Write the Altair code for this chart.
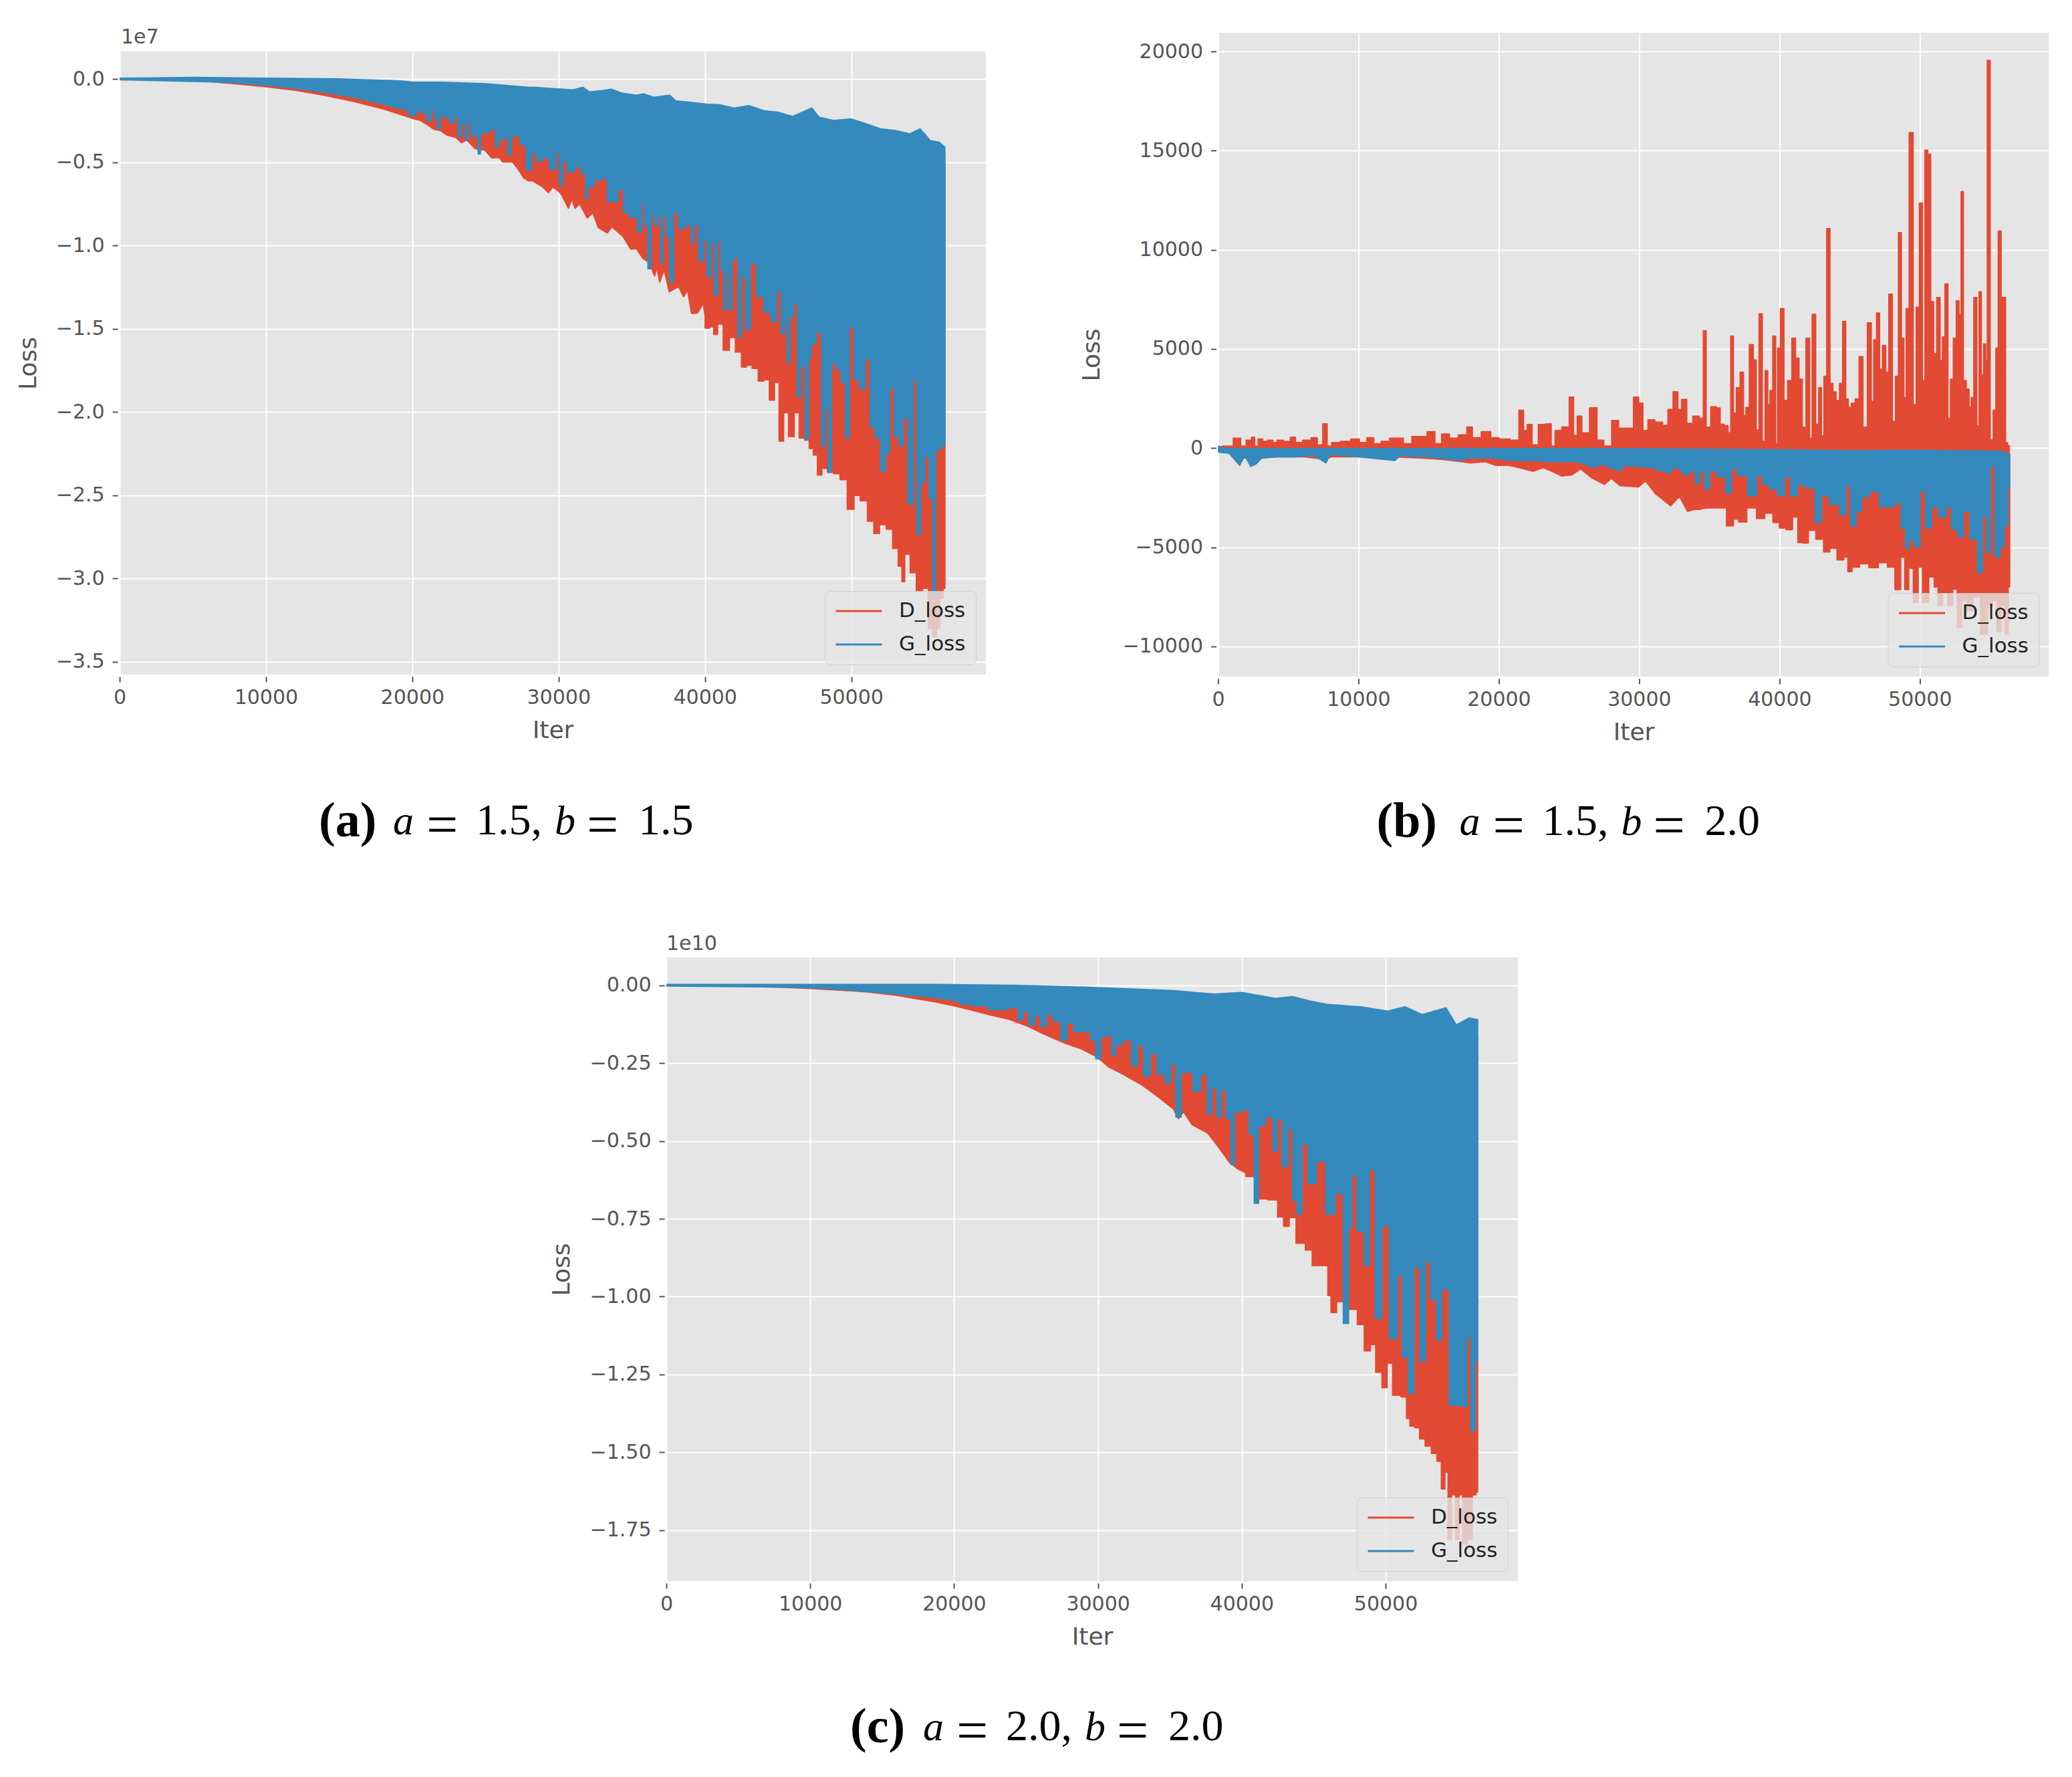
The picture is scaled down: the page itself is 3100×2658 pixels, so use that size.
import altair as alt
import pandas as pd

RED = "#E24A33"
BLUE = "#348ABD"
SERIES = ["D_loss", "G_loss"]
X_TICKS = [0, 10000, 20000, 30000, 40000, 50000]
A_Y_TICKS = [0.0, -0.5, -1.0, -1.5, -2.0, -2.5, -3.0, -3.5]
B_Y_TICKS = [20000, 15000, 10000, 5000, 0, -5000, -10000]
C_Y_TICKS = [0.0, -0.25, -0.5, -0.75, -1.0, -1.25, -1.5, -1.75]

# Panel (a): loss in units of 1e7, (iter, value)
A_D_HI = [(0, 0.0), (10000, -0.01), (20000, -0.04), (30000, -0.1), (40000, -0.22), (50000, -0.33), (56400, -0.5)]
A_G_UPPER_EDGE = [(0, -0.005), (10000, -0.025), (20000, -0.12), (30000, -0.3), (40000, -0.5), (50000, -0.7), (56400, -0.7)]
A_G_LOWER_EDGE = [(0, -0.0005), (10000, -0.005), (20000, -0.03), (30000, -0.12), (40000, -0.3), (50000, -0.5), (56400, -0.7)]
A_D_LO = [(0, -0.001), (2000, -0.003), (4000, -0.008), (6000, -0.015), (8000, -0.03), (10000, -0.047), (12000, -0.068), (14000, -0.098), (16000, -0.135), (18000, -0.18),
          (20090, -0.239), (20550, -0.249), (21000, -0.273), (21460, -0.302), (21920, -0.31), (22370, -0.337), (22980, -0.351), (23360, -0.383), (23740, -0.367), (24280, -0.418),
          (24960, -0.427), (25420, -0.474), (25950, -0.472), (26180, -0.499), (26860, -0.499), (27240, -0.542), (27620, -0.595), (27930, -0.612), (28230, -0.612), (28540, -0.629),
          (28920, -0.649), (29300, -0.683), (29600, -0.649), (29980, -0.673), (30210, -0.696), (30670, -0.777), (30900, -0.723), (31130, -0.777), (31430, -0.75), (31960, -0.835),
          (32340, -0.804), (32720, -0.894), (33330, -0.925), (33640, -0.888), (34400, -0.945), (34930, -1.023), (35310, -1.019), (35770, -1.079), (36220, -1.106), (36560, -1.184),
          (36710, -1.133), (36910, -1.22), (37210, -1.146), (37560, -1.278), (38200, -1.247), (38540, -1.308), (38810, -1.267), (39090, -1.409), (39500, -1.405), (39880, -1.348),
          (40150, -1.497), (40490, -1.489), (40715, -1.534), (41020, -1.473), (41480, -1.629), (41860, -1.553), (42310, -1.64), (42690, -1.731), (43000, -1.72), (43450, -1.739),
          (43840, -1.815), (44210, -1.807), (44600, -1.929), (44900, -1.823), (45240, -2.175), (45510, -2.005), (45930, -2.148), (46270, -2.005), (46620, -2.156), (47000, -2.169),
          (47260, -2.22), (47560, -2.259), (47820, -2.379), (48170, -2.339), (48580, -2.363), (49010, -2.371), (49460, -2.407), (50000, -2.585), (50380, -2.502), (50840, -2.534),
          (51370, -2.656), (51720, -2.731), (52130, -2.677), (52660, -2.704), (53000, -2.82), (53420, -2.926), (53510, -3.02), (53800, -2.855), (54260, -2.966), (54640, -3.077),
          (55100, -3.06), (55430, -3.3), (55700, -3.35), (55940, -3.3), (56150, -3.12), (56400, -3.06)]
A_G_HI = [(0, 0.004), (5000, 0.009), (10000, 0.004), (15000, 0.0), (17000, -0.006), (19000, -0.011), (20090, -0.02), (22000, -0.02), (24660, -0.028), (25500, -0.032), (26500, -0.04),
          (28000, -0.051), (28300, -0.05), (29500, -0.058), (31000, -0.066), (31660, -0.05), (32100, -0.078), (33000, -0.07), (33600, -0.062), (34300, -0.085), (35310, -0.098), (35800, -0.09),
          (36500, -0.11), (37590, -0.098), (38000, -0.132), (39000, -0.14), (40180, -0.152), (41000, -0.155), (42000, -0.175), (43000, -0.16), (44000, -0.19), (45000, -0.2), (46000, -0.225),
          (47300, -0.175), (47800, -0.23), (48800, -0.25), (50000, -0.24), (51000, -0.27), (52000, -0.3), (53000, -0.31), (54000, -0.33), (54700, -0.3), (55400, -0.37), (56000, -0.38), (56400, -0.41)]
A_G_LO = [(0, 0.0), (2000, -0.003), (4000, -0.007), (6000, -0.012), (8000, -0.022), (10000, -0.037), (12000, -0.056), (14000, -0.08), (16000, -0.11), (17000, -0.13), (18000, -0.15), (19000, -0.175), (19500, -0.18),
          (20090, -0.22), (20470, -0.19), (20850, -0.206), (21160, -0.253), (21430, -0.185), (21610, -0.239), (21840, -0.3), (21990, -0.219), (22450, -0.233), (22680, -0.266), (23060, -0.229),
          (23210, -0.347), (23520, -0.27), (23740, -0.367), (23900, -0.253), (24120, -0.333), (24430, -0.347), (24580, -0.45), (24730, -0.327), (25110, -0.32), (25570, -0.3), (25800, -0.407),
          (26030, -0.367), (26410, -0.353), (26640, -0.454), (26860, -0.347), (27170, -0.337), (27550, -0.394), (28010, -0.548), (28310, -0.448), (28690, -0.495), (29070, -0.474), (29680, -0.542),
          (29980, -0.441), (30130, -0.636), (30440, -0.495), (30750, -0.562), (30970, -0.555), (31280, -0.528), (31810, -0.569), (31890, -0.723), (32110, -0.649), (32720, -0.609), (33180, -0.595),
          (33480, -0.737), (33790, -0.737), (34320, -0.663), (34550, -0.804), (35160, -0.831), (35620, -0.918), (35740, -0.737), (35990, -0.878), (36220, -1.14), (36400, -0.817), (36680, -0.878),
          (36910, -0.824), (37060, -1.106), (37210, -0.824), (37520, -0.945), (37670, -1.22), (38050, -0.804), (38350, -0.898), (38960, -0.878), (39190, -0.985), (39340, -0.878), (39800, -1.093),
          (40030, -0.965), (40260, -1.188), (40560, -0.989), (40715, -1.299), (41020, -0.973), (41170, -1.148), (41430, -1.386), (41550, -1.18), (41780, -1.386), (41930, -1.084), (42190, -1.068),
          (42340, -1.553), (42620, -1.188), (42920, -1.505), (43300, -1.108), (43760, -1.307), (44290, -1.402), (44750, -1.458), (45020, -1.275), (45390, -1.529), (45510, -1.458), (45740, -1.704),
          (45890, -1.426), (46230, -1.346), (46420, -1.91), (46700, -1.727), (47000, -2.164), (47180, -1.68), (47340, -1.592), (47870, -1.521), (48100, -2.204), (48320, -1.981), (48550, -2.363),
          (48730, -1.704), (49160, -1.743), (49470, -1.823), (49740, -2.156), (50000, -1.489), (50380, -1.807), (50760, -1.862), (51140, -1.68), (51450, -2.093), (51830, -2.156), (52180, -2.355),
          (52510, -2.251), (52740, -1.854), (53120, -2.148), (53420, -2.204), (53650, -2.037), (54110, -2.553), (54370, -1.807), (54610, -2.736), (54870, -2.426), (55170, -2.267), (55480, -2.521),
          (55680, -3.11), (55860, -2.228), (56400, -2.204)]

# Panel (b): raw loss
B_BASE = [(0, -60), (20000, -80), (34000, -100), (45000, -150), (56400, -300)]
B_G_UPPER_EDGE = [(0, -150), (20000, -200), (34000, -300), (45000, -400), (56400, -600)]
B_G_LOWER_EDGE = [(0, -60), (20000, -100), (34000, -120), (45000, -150), (56400, -300)]
B_D_HI = [(0, 65), (680, 100), (1480, 500), (1730, 100), (2260, 400), (2500, 550), (2700, 100), (3000, 460), (3350, 340), (3720, 400), (4080, 280), (4330, 400), (4930, 340), (5370, 550), (5660, 280), (6390, 400),
          (6880, 520), (7240, 160), (7680, 1220), (7850, 100), (8340, 280), (9070, 340), (9840, 460), (10280, 280), (10910, 520), (11250, 220), (11980, 340), (12470, 500), (12950, 500), (13440, 220), (14170, 580),
          (14530, 580), (15260, 825), (15630, 220), (16230, 705), (16720, 500), (17520, 670), (17930, 1066), (18300, 520), (19200, 825), (19640, 520), (20370, 460), (21220, 400), (21650, 1910), (21870, 885),
          (22190, 1187), (22550, 160), (23090, 1187), (23570, 1223), (23890, 100), (24130, 885), (24860, 1066), (25180, 2573), (25470, 640), (25710, 1609), (26120, 765), (26810, 2031), (27170, 400), (27780, 100),
          (28310, 1392), (28750, 1006), (29360, 1006), (29840, 2573), (30080, 2272), (30450, 885), (30810, 1428), (31420, 1307), (31910, 1150), (32200, 1946), (32640, 2839), (32880, 1946), (33170, 2453), (33610, 1247),
          (34050, 1609), (34490, 1500), (34660, 5918), (34880, 1055), (35330, 2079), (35660, 2023), (35880, 1198), (36240, 1127), (36420, 771), (36640, 5648), (36790, 1767), (37060, 3046), (37340, 3828), (37520, 1624),
          (37700, 2051), (38010, 5222), (38250, 4440), (38430, 913), (38660, 6772), (38880, 345), (39070, 3900), (39250, 2193), (39400, 2904), (39650, 5648), (39800, 203), (39940, 5037), (40200, 7028), (40430, 2406),
          (40740, 3402), (41030, 5535), (41250, 4539), (41530, 3473), (41710, 1055), (42070, 5535), (42220, 486), (42440, 6744), (42710, 1198), (42890, 3046), (43080, 629), (43260, 3615), (43480, 11066), (43710, 3259),
          (43900, 2833), (44170, 2406), (44390, 3259), (44620, 6388), (44810, 2478), (44990, 2051), (45260, 2264), (45540, 2478), (45810, 4611), (46080, 1055), (46450, 6317), (46630, 2335), (46810, 5464), (47030, 6815),
          (47230, 3971), (47450, 5180), (47690, 3828), (47900, 7767), (48180, 1340), (48360, 3615), (48600, 10867), (48760, 5535), (48960, 2549), (49090, 7028), (49400, 15901), (49640, 2193), (49850, 7099), (50090, 12360),
          (50270, 3402), (50460, 15020), (50670, 14820), (50870, 7383), (51090, 4753), (51330, 7597), (51550, 4397), (51680, 5606), (51910, 8279), (52090, 1482), (52280, 3473), (52500, 5535), (52700, 7426), (52880, 6744),
          (53010, 12929), (53190, 3402), (53420, 2975), (53600, 2051), (53730, 2549), (53970, 7597), (54150, 1127), (54300, 7881), (54460, 3686), (54640, 5251), (54740, 4397), (54880, 19542), (55140, 415), (55320, 1909),
          (55520, 5037), (55660, 10939), (55920, 7597), (56050, 7597), (56160, 273), (56340, 131), (56400, -367)]
B_D_LO = [(0, -55), (800, -260), (1530, -500), (2260, -500), (2990, -500), (4200, -440), (6150, -440), (7610, -560), (8090, -440), (10040, -440), (12220, -440), (14410, -500), (15870, -560), (17330, -680), (17930, -745),
          (19030, -680), (19760, -864), (20730, -864), (21460, -985), (22430, -1165), (23160, -985), (23770, -1165), (24500, -1406), (25220, -1346), (25830, -1045), (26560, -1467), (27530, -1829), (28020, -1527), (28630, -1890),
          (29960, -1950), (30450, -1648), (31180, -2311), (32240, -2905), (32880, -2432), (33450, -3186), (33930, -3096), (34870, -3017), (35930, -3017), (36520, -3918), (36910, -3580), (37260, -3727), (38070, -3017),
          (38660, -3547), (39240, -3276), (39820, -3749), (40170, -4031), (40760, -4110), (41090, -3468), (41530, -4763), (41860, -4785), (42250, -4143), (42930, -4594), (43360, -5236), (43810, -5044), (44390, -5641),
          (44780, -5495), (44970, -6226), (45360, -6001), (46040, -5832), (46690, -6024), (47400, -5776), (47990, -6001), (48470, -7127), (48800, -5500), (49060, -7127), (49350, -6058), (49730, -7775), (50030, -6001),
          (50360, -7775), (50900, -6500), (51150, -7000), (51450, -7924), (51800, -7300), (52180, -7924), (52500, -7100), (52820, -9023), (53150, -7700), (53600, -8200), (54000, -7500), (54640, -9389), (55000, -8000),
          (55350, -7700), (55650, -9242), (55950, -7900), (56190, -9389), (56400, -7000)]
B_G_HI = [(0, 100), (500, -20), (5000, -20), (30000, -30), (34000, -60), (40000, -80), (45000, -130), (50000, -110), (53000, -130), (55000, -150), (56000, -170), (56400, -450)]
B_G_LO = [(0, -200), (800, -260), (1530, -864), (1900, -380), (2330, -924), (2700, -804), (3110, -500), (4200, -440), (5420, -440), (6880, -380), (7680, -743), (7970, -320), (10040, -440), (12590, -622), (12950, -380),
          (14900, -440), (17330, -622), (17810, -500), (19510, -500), (20730, -622), (22190, -622), (23770, -683), (25590, -683), (26810, -985), (27290, -803), (28630, -1165), (28990, -864), (30940, -985), (32100, -1286),
          (32640, -924), (33370, -1406), (33850, -1045), (34185, -1779), (34480, -1159), (34870, -2060), (35160, -1159), (35930, -1441), (36420, -2285), (36710, -1047), (37300, -1385), (38170, -2398), (38560, -1385),
          (39050, -1835), (39530, -2060), (40210, -2398), (40500, -1441), (41090, -2398), (41470, -1835), (42250, -2004), (42840, -3749), (43130, -2398), (44000, -2848), (44590, -3355), (44880, -1891), (45270, -3918),
          (45650, -3186), (46040, -2454), (46820, -2173), (47400, -2961), (47990, -2961), (48470, -2736), (48860, -4031), (49120, -5044), (49450, -4650), (49890, -4988), (50130, -2173), (50670, -4031), (51000, -2961),
          (51680, -3468), (52070, -2961), (52460, -4087), (52950, -4481), (53240, -3186), (53920, -4594), (54310, -6283), (54600, -3411), (54930, -5269), (55140, -900), (55570, -5495), (55860, -4988), (56150, -3918), (56400, -1948)]

# Panel (c): loss in units of 1e10
C_D_HI = [(0, 0.0), (20000, -0.006), (30000, -0.025), (40000, -0.06), (50000, -0.12), (56400, -0.16)]
C_G_UPPER_EDGE = [(0, -0.002), (10000, -0.006), (20000, -0.04), (30000, -0.1), (40000, -0.2), (50000, -0.3), (56400, -0.3)]
C_G_LOWER_EDGE = [(0, -0.0002), (10000, -0.002), (20000, -0.01), (30000, -0.04), (40000, -0.1), (50000, -0.2), (56400, -0.3)]
C_D_LO = [(0, -0.0005), (4000, -0.001), (8000, -0.006), (10000, -0.01), (12000, -0.015), (14000, -0.021), (16000, -0.032), (18660, -0.053), (19850, -0.064), (21030, -0.077), (22450, -0.094), (23760, -0.108), (25060, -0.13),
          (26240, -0.156), (27670, -0.185), (28850, -0.204), (29920, -0.229), (30750, -0.262), (31690, -0.284), (33110, -0.321), (34300, -0.362), (35250, -0.397), (35600, -0.428), (35960, -0.406), (36550, -0.448),
          (37620, -0.474), (38330, -0.516), (39160, -0.569), (39750, -0.59), (40810, -0.614), (41290, -0.686), (42350, -0.689), (42640, -0.744), (43180, -0.774), (43420, -0.746), (44130, -0.828), (44720, -0.85),
          (45080, -0.9), (45910, -0.9), (46065, -0.997), (46350, -1.051), (46835, -1.016), (47800, -1.041), (48280, -1.09), (48760, -1.174), (49140, -1.154), (49490, -1.243), (50010, -1.292), (50200, -1.214), (50780, -1.317),
          (51360, -1.322), (51550, -1.391), (51840, -1.416), (52220, -1.421), (52510, -1.457), (52990, -1.48), (53380, -1.504), (53760, -1.529), (54000, -1.618), (54250, -1.564), (54440, -1.78), (54730, -1.637), (55010, -1.78),
          (55210, -1.637), (55500, -1.795), (55880, -1.78), (56170, -1.637), (56400, -1.628)]
C_G_HI = [(0, 0.003), (18660, 0.003), (24585, 0.0), (29320, -0.006), (35250, -0.017), (38090, -0.028), (39980, -0.023), (42350, -0.042), (43540, -0.036), (44720, -0.05), (45910, -0.061), (48280, -0.069), (50170, -0.083),
          (51350, -0.069), (52540, -0.094), (54200, -0.072), (54910, -0.127), (55810, -0.105), (56400, -0.11)]
C_G_LO = [(0, -0.0005), (4000, -0.001), (8000, -0.004), (10000, -0.007), (12000, -0.012), (14000, -0.018), (16000, -0.027), (18660, -0.039), (19850, -0.047), (21030, -0.061), (21620, -0.066), (23160, -0.078), (24230, -0.072),
          (24700, -0.11), (24940, -0.083), (25420, -0.127), (25770, -0.097), (26240, -0.132), (26600, -0.094), (27190, -0.116), (27670, -0.176), (28020, -0.121), (28610, -0.149), (29320, -0.149), (29680, -0.176), (30030, -0.236),
          (30390, -0.165), (30860, -0.16), (31100, -0.225), (31340, -0.193), (32050, -0.176), (32640, -0.258), (32880, -0.193), (33470, -0.291), (33820, -0.22), (34420, -0.286), (34890, -0.313), (35250, -0.253), (35600, -0.423),
          (35960, -0.28), (36430, -0.28), (36790, -0.34), (37500, -0.286), (37730, -0.412), (38090, -0.33), (38450, -0.423), (38680, -0.335), (39160, -0.428), (39350, -0.576), (39630, -0.406), (40340, -0.401), (40690, -0.478),
          (41050, -0.7), (41290, -0.45), (42000, -0.423), (42350, -0.532), (42590, -0.428), (43020, -0.582), (43420, -0.461), (43660, -0.691), (44010, -0.735), (44370, -0.51), (44840, -0.637), (45550, -0.565), (46140, -0.735),
          (46850, -0.669), (47280, -1.086), (47570, -0.779), (47750, -0.609), (48280, -0.79), (48750, -0.9), (48990, -0.593), (49580, -1.07), (49890, -0.773), (50640, -1.135), (51000, -0.932), (51350, -1.195), (51830, -1.31),
          (52110, -0.905), (52660, -1.207), (52900, -0.889), (53370, -1.009), (53720, -1.14), (54080, -0.976), (54790, -1.349), (55500, -1.352), (55790, -1.13), (56080, -1.43), (56400, -1.208)]

FONT = "DejaVu Sans"
SERIF = "Liberation Serif"


def band(series, hi, lo):
    pts = list(hi) + list(reversed(lo))
    return pd.DataFrame({"iter": [p[0] for p in pts], "loss": [p[1] for p in pts],
                         "seq": list(range(len(pts))), "series": series})


def cut(pts, t):
    """Split a list at iteration t; lists without a point at t share the neighbours."""
    k = next(i for i, p in enumerate(pts) if p[0] >= t)
    return pts[:k + 1], (pts[k:] if pts[k][0] == t else pts[max(k - 1, 0):])


def split(series, hi, lo, t, fill):
    h0, h1 = cut(hi, t)
    l0, l1 = cut(lo, t)
    return [(series, h0, l0, fill, "linear"), (series, h1, l1, fill, "step")]


def note(text, x, y, size, color, font, style="normal", weight="normal", align="left"):
    return alt.Chart(pd.DataFrame({"t": [text]})).mark_text(
        font=font, fontSize=size, color=color, fontStyle=style, fontWeight=weight,
        align=align, baseline="alphabetic", clip=False
    ).encode(text="t:N", x=alt.value(x), y=alt.value(y))


def caption(tag, tag_x, vals, dx, y):
    parts = [note(f"({tag})", tag_x, y + 3, 74, "#000000", SERIF, weight="bold")]
    parts.append(note("a", dx + 0, y, 62, "#000000", SERIF, style="italic"))
    parts.append(note("=", dx + 50, y + 14, 84, "#000000", SERIF))
    parts.append(note(f"{vals[0]},", dx + 124, y, 66, "#000000", SERIF))
    parts.append(note("b", dx + 242, y, 62, "#000000", SERIF, style="italic"))
    parts.append(note("=", dx + 290, y + 14, 84, "#000000", SERIF))
    parts.append(note(f"{vals[1]}", dx + 367, y, 66, "#000000", SERIF))
    return parts


def panel(polys, ydom, yticks, yfmt, w, h, title_x, extras):
    x = alt.X("iter:Q", scale=alt.Scale(domain=[0, 59200], nice=False, zero=False),
              axis=alt.Axis(values=X_TICKS, format="d", title="Iter", grid=True, gridColor="#FFFFFF", gridWidth=2,
                            domain=False, offset=3, tickSize=8, tickWidth=2, tickColor="#555555",
                            labelFont=FONT, labelFontSize=30, labelColor="#555555", labelPadding=8, labelFlush=False,
                            labelOverlap=False, titleFont=FONT, titleFontSize=36, titleColor="#555555",
                            titleFontWeight="normal", titleX=w / 2, titleY=80, titleAlign="center",
                            titleBaseline="middle"))
    y = alt.Y("loss:Q", scale=alt.Scale(domain=ydom, nice=False, zero=False),
              axis=alt.Axis(values=yticks, format=yfmt, title="Loss", grid=True, gridColor="#FFFFFF", gridWidth=2,
                            domain=False, offset=3, tickSize=8, tickWidth=2, tickColor="#555555",
                            labelFont=FONT, labelFontSize=30, labelColor="#555555", labelPadding=12, labelFlush=False,
                            labelOverlap=False, titleFont=FONT, titleFontSize=36, titleColor="#555555",
                            titleFontWeight="normal", titleX=title_x, titleY=h / 2, titleAngle=-90, titleAlign="center",
                            titleBaseline="middle"))
    legend = alt.Legend(title=None, orient="bottom-right", offset=15, fillColor="rgba(229,229,229,0.8)",
                        strokeColor="rgba(204,204,204,0.8)", cornerRadius=8, padding=15, symbolType="stroke",
                        symbolSize=4761, symbolStrokeWidth=3, labelFont=FONT, labelFontSize=31, labelColor="#222222",
                        clipHeight=30, rowPadding=19, labelOffset=24)
    color = alt.Color("series:N", scale=alt.Scale(domain=SERIES, range=[RED, BLUE]), legend=legend)

    def layer(series, hi, lo, fill, interp):
        return alt.Chart(band(series, hi, lo)).mark_line(
            fill=fill, strokeWidth=2, interpolate=interp, clip=False, strokeJoin="round"
        ).encode(x=x, y=y, color=color, order=alt.Order("seq:Q"))

    layers = [layer(*p) for p in polys]
    return alt.layer(*layers, *extras).properties(
        width=w, height=h, view=alt.ViewBackground(fill="#E5E5E5", stroke=None))


def spacer(w, h):
    return alt.Chart(pd.DataFrame({"v": [0]})).mark_point(opacity=0).encode(
        x=alt.X("v:Q", axis=None), y=alt.Y("v:Q", axis=None)
    ).properties(width=w, height=h, view=alt.ViewBackground(fill=None, stroke=None))


a = panel(split("D_loss", A_D_HI, A_D_LO, 40000, RED)
          + [("G_loss", A_G_HI, A_G_UPPER_EDGE, BLUE, "linear")] + split("G_loss", A_G_LOWER_EDGE, A_G_LO, 20000, BLUE),
          [-3.578, 0.165], A_Y_TICKS, ".1f", 1296, 932, -134,
          [note("1e7", 2, -12, 30, "#555555", FONT)] + caption("a", 298, ("1.5", "1.5"), 409, 1171))
b = panel([("D_loss", B_D_HI, B_BASE, RED, "step")] + split("D_loss", B_BASE, B_D_LO, 34000, RED)
          + [("G_loss", B_G_HI, B_G_UPPER_EDGE, BLUE, "linear")] + split("G_loss", B_G_LOWER_EDGE, B_G_LO, 34000, BLUE),
          [-11520, 20945], B_Y_TICKS, "d", 1243, 963, -186,
          caption("b", 237, ("1.5", "2.0"), 361, 1200))
c = panel(split("D_loss", C_D_HI, C_D_LO, 40000, RED)
          + [("G_loss", C_G_HI, C_G_UPPER_EDGE, BLUE, "linear")] + split("G_loss", C_G_LOWER_EDGE, C_G_LO, 20000, BLUE),
          [-1.914, 0.09], C_Y_TICKS, ".2f", 1274, 933, -154,
          [note("1e10", 0, -11, 30, "#555555", FONT)] + caption("c", 275, ("2.0", "2.0"), 384, 1171))

a_col = alt.VConcatChart(vconcat=[spacer(1, 1), a], spacing=-12).resolve_scale(color="independent").resolve_legend(color="independent")
top = alt.HConcatChart(hconcat=[a_col, b], spacing=140.5).resolve_scale(color="independent").resolve_legend(color="independent")
bottom = alt.HConcatChart(hconcat=[spacer(643, 1), c], spacing=0).resolve_scale(color="independent").resolve_legend(color="independent")
chart = alt.VConcatChart(vconcat=[top, bottom], spacing=117).properties(
    padding={"left": 16, "top": 33, "right": 5, "bottom": 5}, background="#FFFFFF"
).resolve_scale(color="independent").resolve_legend(color="independent")

chart.save("out.html", embed_options={"renderer": "svg", "actions": False})
